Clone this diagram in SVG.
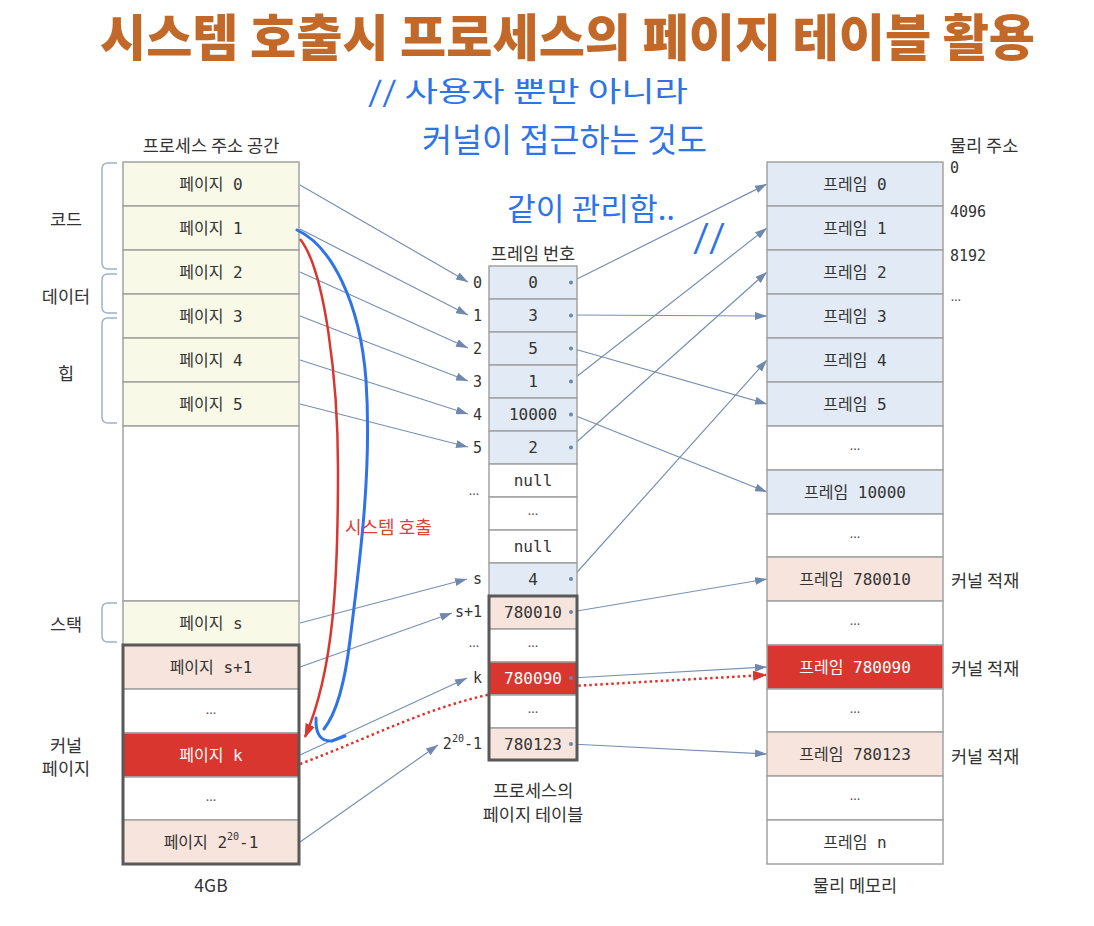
<svg xmlns="http://www.w3.org/2000/svg" width="1094" height="926" viewBox="0 0 1094 926">
<defs>
<style>
.cell{stroke:#a3a3a3;stroke-width:1.5}
.yel{fill:#f8f9e7}.blu{fill:#e2eaf5}.pnk{fill:#f7e4dc}.red{fill:#d9362f}.wht{fill:#ffffff}
.t{font-family:"DejaVu Sans Mono","Noto Sans CJK KR",monospace;font-size:16px;fill:#333;text-anchor:middle;dominant-baseline:central}
.tw{fill:#ffffff}
.dots{font-family:"Noto Sans","Noto Sans CJK KR",sans-serif;font-size:13px;fill:#555;text-anchor:middle;dominant-baseline:central}
.lbl{font-family:"Noto Sans CJK KR","Noto Sans",sans-serif;font-size:17.5px;fill:#333;dominant-baseline:central}
.mono{font-family:"DejaVu Sans Mono","Noto Sans CJK KR",monospace;font-size:15px;fill:#333;dominant-baseline:central}
.conn{stroke:#7990b3;stroke-width:1.2;fill:none;marker-end:url(#ah)}
.brace{stroke:#9fb3c8;stroke-width:1.5;fill:none}
.hand{font-family:"Noto Sans CJK KR",sans-serif;fill:#2e73e8;font-weight:400}
.dot{fill:#6b87aa}
.thick{fill:none;stroke:#595959;stroke-width:3}
</style>
<marker id="ah" markerWidth="12" markerHeight="8" refX="12" refY="4" orient="auto" markerUnits="userSpaceOnUse"><path d="M0,0 L12,4 L0,8 z" fill="#6f88ad"/></marker>
<marker id="ahr" markerWidth="14" markerHeight="10" refX="13" refY="5" orient="auto" markerUnits="userSpaceOnUse"><path d="M0,0 L14,5 L0,10 z" fill="#d9362f"/></marker>
</defs>
<rect width="1094" height="926" fill="#ffffff"/>

<text id="title" x="100" y="56" textLength="935" lengthAdjust="spacingAndGlyphs" font-family="'Noto Sans CJK KR',sans-serif" font-weight="900" font-size="50" fill="#c2692a">시스템 호출시 프로세스의 페이지 테이블 활용</text>

<g id="handwriting">
<text class="hand" x="368" y="102" font-size="28" textLength="320" lengthAdjust="spacingAndGlyphs">// 사용자 뿐만 아니라</text>
<text class="hand" x="422" y="152" font-size="33" textLength="285" lengthAdjust="spacingAndGlyphs">커널이 접근하는 것도</text>
<text class="hand" x="507" y="220" font-size="31" textLength="168" lengthAdjust="spacingAndGlyphs">같이 관리함..</text>
<text class="hand" x="693" y="248" font-size="32" textLength="32" lengthAdjust="spacingAndGlyphs">//</text>
</g>

<g id="connectors">
<path class="conn" d="M300,185 L468,282"/>
<path class="conn" d="M300,229 L468,315"/>
<path class="conn" d="M300,272 L468,348"/>
<path class="conn" d="M300,316 L468,381"/>
<path class="conn" d="M300,360 L468,414"/>
<path class="conn" d="M300,404 L468,447"/>
<path class="conn" d="M300,623 L467,579"/>
<path class="conn" d="M300,667 L452,613"/>
<path class="conn" d="M300,755 L467,678"/>
<path class="conn" d="M300,842 L438,745"/>
<path class="conn" d="M571,282 L767,184"/>
<path class="conn" d="M571,315 L767,316"/>
<path class="conn" d="M571,348 L767,404"/>
<path class="conn" d="M571,381 L767,228"/>
<path class="conn" d="M571,414 L767,492"/>
<path class="conn" d="M571,447 L767,272"/>
<path class="conn" d="M571,579 L767,360"/>
<path class="conn" d="M571,612 L767,579"/>
<path class="conn" d="M571,678 L767,667"/>
<path class="conn" d="M571,744 L767,754"/>
<path d="M300,764 C380,734 440,700 520,689 L766,675" fill="none" stroke="#d9362f" stroke-width="2.5" stroke-dasharray="2.5 3" marker-end="url(#ahr)"/>
</g>

<g id="left-braces">
<path class="brace" d="M117,163 H108 Q102,163 102,169 V263 Q102,269 108,269 H117"/>
<path class="brace" d="M117,274 H108 Q102,274 102,280 V307 Q102,313 108,313 H117"/>
<path class="brace" d="M117,318 H108 Q102,318 102,324 V417 Q102,423 108,423 H117"/>
<path class="brace" d="M117,603 H108 Q102,603 102,609 V636 Q102,642 108,642 H117"/>
<text class="lbl" x="66" y="218" text-anchor="middle">코드</text>
<text class="lbl" x="66" y="295" text-anchor="middle">데이터</text>
<text class="lbl" x="66" y="372" text-anchor="middle">힙</text>
<text class="lbl" x="66" y="623" text-anchor="middle">스택</text>
<text class="lbl" x="66" y="744" text-anchor="middle">커널</text>
<text class="lbl" x="66" y="767" text-anchor="middle">페이지</text>
</g>

<g id="process-address-space">
<text class="lbl" x="211" y="144" text-anchor="middle">프로세스 주소 공간</text>
<g id="page0"><rect class="cell yel" x="123" y="162" width="176" height="44"/><text class="t" x="211" y="184">페이지 0</text></g>
<g id="page1"><rect class="cell yel" x="123" y="206" width="176" height="44"/><text class="t" x="211" y="228">페이지 1</text></g>
<g id="page2"><rect class="cell yel" x="123" y="250" width="176" height="44"/><text class="t" x="211" y="272">페이지 2</text></g>
<g id="page3"><rect class="cell yel" x="123" y="294" width="176" height="44"/><text class="t" x="211" y="316">페이지 3</text></g>
<g id="page4"><rect class="cell yel" x="123" y="338" width="176" height="44"/><text class="t" x="211" y="360">페이지 4</text></g>
<g id="page5"><rect class="cell yel" x="123" y="382" width="176" height="44"/><text class="t" x="211" y="404">페이지 5</text></g>
<g id="page-blank"><rect class="cell wht" x="123" y="426" width="176" height="175"/></g>
<g id="page-s"><rect class="cell yel" x="123" y="601" width="176" height="44"/><text class="t" x="211" y="623">페이지 s</text></g>
<g id="page-s1"><rect class="cell pnk" x="123" y="645" width="176" height="44"/><text class="t" x="211" y="667">페이지 s+1</text></g>
<g id="page-dots1"><rect class="cell wht" x="123" y="689" width="176" height="44"/><text class="dots" x="211" y="709">...</text></g>
<g id="page-k"><rect class="cell red" x="123" y="733" width="176" height="44"/><text class="t tw" x="211" y="755">페이지 k</text></g>
<g id="page-dots2"><rect class="cell wht" x="123" y="777" width="176" height="43"/><text class="dots" x="211" y="796">...</text></g>
<g id="page-last"><rect class="cell pnk" x="123" y="820" width="176" height="44"/><text class="t" x="211" y="842">페이지 2<tspan dy="-6" font-size="10">20</tspan><tspan dy="6">-1</tspan></text></g>
<rect class="thick" x="123" y="645" width="176" height="219"/>
<text class="lbl" x="211" y="884" text-anchor="middle" font-size="15">4GB</text>
</g>

<g id="page-table">
<text class="lbl" x="533" y="252" text-anchor="middle">프레임 번호</text>
<g id="pt0"><rect class="cell blu" x="489" y="266" width="88" height="33"/><text class="t" x="533" y="282.5">0</text><circle class="dot" cx="571" cy="282.5" r="2"/></g>
<g id="pt1"><rect class="cell blu" x="489" y="299" width="88" height="33"/><text class="t" x="533" y="315.5">3</text><circle class="dot" cx="571" cy="315.5" r="2"/></g>
<g id="pt2"><rect class="cell blu" x="489" y="332" width="88" height="33"/><text class="t" x="533" y="348.5">5</text><circle class="dot" cx="571" cy="348.5" r="2"/></g>
<g id="pt3"><rect class="cell blu" x="489" y="365" width="88" height="33"/><text class="t" x="533" y="381.5">1</text><circle class="dot" cx="571" cy="381.5" r="2"/></g>
<g id="pt4"><rect class="cell blu" x="489" y="398" width="88" height="33"/><text class="t" x="533" y="414.5">10000</text><circle class="dot" cx="571" cy="414.5" r="2"/></g>
<g id="pt5"><rect class="cell blu" x="489" y="431" width="88" height="33"/><text class="t" x="533" y="447.5">2</text><circle class="dot" cx="571" cy="447.5" r="2"/></g>
<g id="pt6"><rect class="cell wht" x="489" y="464" width="88" height="33"/><text class="t" x="533" y="480">null</text></g>
<g id="pt7"><rect class="cell wht" x="489" y="497" width="88" height="33"/><text class="dots" x="533" y="510">...</text></g>
<g id="pt8"><rect class="cell wht" x="489" y="530" width="88" height="33"/><text class="t" x="533" y="546">null</text></g>
<g id="pt-s"><rect class="cell blu" x="489" y="563" width="88" height="33"/><text class="t" x="533" y="579">4</text><circle class="dot" cx="571" cy="579" r="2"/></g>
<g id="pt-s1"><rect class="cell pnk" x="489" y="596" width="88" height="33"/><text class="t" x="533" y="612">780010</text><circle class="dot" cx="571" cy="612" r="2"/></g>
<g id="pt-d1"><rect class="cell wht" x="489" y="629" width="88" height="33"/><text class="dots" x="533" y="642">...</text></g>
<g id="pt-k"><rect class="cell red" x="489" y="662" width="88" height="33"/><text class="t tw" x="533" y="678">780090</text><circle class="dot" cx="571" cy="678" r="2"/></g>
<g id="pt-d2"><rect class="cell wht" x="489" y="695" width="88" height="33"/><text class="dots" x="533" y="708">...</text></g>
<g id="pt-last"><rect class="cell pnk" x="489" y="728" width="88" height="32"/><text class="t" x="533" y="744">780123</text><circle class="dot" cx="571" cy="744" r="2"/></g>
<rect class="thick" x="489" y="596" width="88" height="164"/>
<text class="mono" x="482" y="282.5" text-anchor="end">0</text>
<text class="mono" x="482" y="315.5" text-anchor="end">1</text>
<text class="mono" x="482" y="348.5" text-anchor="end">2</text>
<text class="mono" x="482" y="381.5" text-anchor="end">3</text>
<text class="mono" x="482" y="414.5" text-anchor="end">4</text>
<text class="mono" x="482" y="447.5" text-anchor="end">5</text>
<text class="dots" x="474" y="490">...</text>
<text class="mono" x="482" y="579" text-anchor="end">s</text>
<text class="mono" x="482" y="612" text-anchor="end">s+1</text>
<text class="dots" x="474" y="642">...</text>
<text class="mono" x="482" y="678" text-anchor="end">k</text>
<text class="mono" x="482" y="744" text-anchor="end">2<tspan dy="-6" font-size="10">20</tspan><tspan dy="6">-1</tspan></text>
<text class="lbl" x="533" y="789" text-anchor="middle" font-size="16">프로세스의</text>
<text class="lbl" x="533" y="813" text-anchor="middle" font-size="16">페이지 테이블</text>
</g>

<g id="physical-memory">
<text class="lbl" x="950" y="144">물리 주소</text>
<text class="mono" x="950" y="168">0</text>
<text class="mono" x="950" y="212">4096</text>
<text class="mono" x="950" y="256">8192</text>
<text class="dots" x="956" y="296">…</text>
<g id="f0"><rect class="cell blu" x="767" y="162" width="176" height="44"/><text class="t" x="855" y="184">프레임 0</text></g>
<g id="f1"><rect class="cell blu" x="767" y="206" width="176" height="44"/><text class="t" x="855" y="228">프레임 1</text></g>
<g id="f2"><rect class="cell blu" x="767" y="250" width="176" height="44"/><text class="t" x="855" y="272">프레임 2</text></g>
<g id="f3"><rect class="cell blu" x="767" y="294" width="176" height="44"/><text class="t" x="855" y="316">프레임 3</text></g>
<g id="f4"><rect class="cell blu" x="767" y="338" width="176" height="44"/><text class="t" x="855" y="360">프레임 4</text></g>
<g id="f5"><rect class="cell blu" x="767" y="382" width="176" height="44"/><text class="t" x="855" y="404">프레임 5</text></g>
<g id="fd1"><rect class="cell wht" x="767" y="426" width="176" height="44"/><text class="dots" x="855" y="445">...</text></g>
<g id="f10000"><rect class="cell blu" x="767" y="470" width="176" height="44"/><text class="t" x="855" y="492">프레임 10000</text></g>
<g id="fd2"><rect class="cell wht" x="767" y="514" width="176" height="43"/><text class="dots" x="855" y="533">...</text></g>
<g id="f780010"><rect class="cell pnk" x="767" y="557" width="176" height="44"/><text class="t" x="855" y="579">프레임 780010</text></g>
<g id="fd3"><rect class="cell wht" x="767" y="601" width="176" height="44"/><text class="dots" x="855" y="620">...</text></g>
<g id="f780090"><rect class="cell red" x="767" y="645" width="176" height="44"/><text class="t tw" x="855" y="667">프레임 780090</text></g>
<g id="fd4"><rect class="cell wht" x="767" y="689" width="176" height="43"/><text class="dots" x="855" y="708">...</text></g>
<g id="f780123"><rect class="cell pnk" x="767" y="732" width="176" height="44"/><text class="t" x="855" y="754">프레임 780123</text></g>
<g id="fd5"><rect class="cell wht" x="767" y="776" width="176" height="44"/><text class="dots" x="855" y="795">...</text></g>
<g id="fn"><rect class="cell wht" x="767" y="820" width="176" height="44"/><text class="t" x="855" y="842">프레임 n</text></g>
<text class="lbl" x="951" y="579">커널 적재</text>
<text class="lbl" x="951" y="667">커널 적재</text>
<text class="lbl" x="951" y="755">커널 적재</text>
<text class="lbl" x="855" y="884" text-anchor="middle">물리 메모리</text>
</g>

<g id="syscall-arrows">
<path d="M300,239 C325,270 338,380 338,470 C338,580 334,670 305,737" fill="none" stroke="#d9362f" stroke-width="2.5" marker-end="url(#ahr)"/>
<text x="345" y="526" font-family="'Noto Sans CJK KR',sans-serif" font-size="18" fill="#e0403a" dominant-baseline="central">시스템 호출</text>
<path d="M297,230 C330,245 360,300 366,380 C372,470 360,560 350,640 C344,690 335,715 324,729" fill="none" stroke="#2e73e8" stroke-width="3" stroke-linecap="round"/>
<path d="M316,718 Q315,742 332,741 L345,736" fill="none" stroke="#2e73e8" stroke-width="3" stroke-linecap="round"/>
</g>
</svg>
